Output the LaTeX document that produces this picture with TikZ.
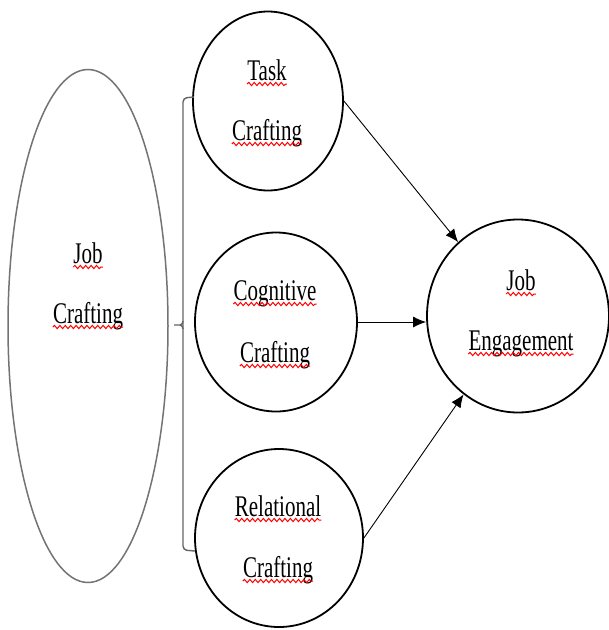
\documentclass[tikz,border=0pt]{standalone}
\usepackage{fontspec}
\setmainfont{Liberation Serif}[FakeStretch=0.70]
\usepackage{xcolor}
\usetikzlibrary{shapes.geometric,arrows.meta,decorations.pathmorphing}

\begin{document}
\begin{tikzpicture}[x=1pt,y=-1pt,
        stage/.style={
                ellipse,
                draw,
                line width=1.8pt,
        },
        word/.style={anchor=base, inner sep=0pt, font=\fontsize{30}{34}\selectfont},
        squiggle/.style={draw=red, line width=1pt, decorate,
                decoration={snake, amplitude=1.6pt, segment length=5.4pt}},
        flow/.style={-{Latex[length=13pt,width=11pt]}, line width=0.9pt},
        bracket/.style={draw=black!60, line width=1.4pt}]
            \useasboundingbox (0,0) rectangle (609,630);
            \node[ellipse, draw=black!55, line width=1.5pt, minimum width=160pt, minimum height=513pt] (jc) at (88,326) {};
            \node[stage, minimum width=150pt, minimum height=179pt] (task) at (268,101) {};
            \node[stage, minimum width=162pt, minimum height=179pt] (cog) at (276,322) {};
            \node[stage, minimum width=168pt, minimum height=178pt] (rel) at (279,538) {};
            \node[stage, minimum width=182pt, minimum height=193pt] (je) at (518,316) {};
            % words
            \node[word] (jc1) at (88,263) {Job};
            \node[word] (jc2) at (88,323) {Crafting};
            \node[word] (task1) at (267,80) {Task};
            \node[word] (task2) at (267,140) {Crafting};
            \node[word] (cog1) at (275,300) {Cognitive};
            \node[word] (cog2) at (275,362) {Crafting};
            \node[word] (rel1) at (278,516) {Relational};
            \node[word] (rel2) at (278,577) {Crafting};
            \node[word] (je1) at (521,290) {Job};
            \node[word] (je2) at (521,350) {Engagement};
            \foreach \w in {jc1,jc2,task1,task2,cog1,cog2,rel1,rel2,je1,je2}
                \path[squiggle] ([yshift=-4pt]\w.base west) -- ([yshift=-4pt]\w.base east);
            % bracket
            \draw[bracket, rounded corners=4pt] (194,97) -- (183,98) -- (183,550) -- (195,551);
            \draw[bracket] (174,325) -- (180,325) to[out=0,in=-90] (183,321);
            \draw[bracket] (180,325) to[out=0,in=90] (183,329);
            % arrows
            \draw[flow] (task.east) -- (je);
            \draw[flow] (cog.east) -- (cog.east -| je.west);
            \draw[flow] (rel.east) -- (je);
        \end{tikzpicture}
\end{document}
